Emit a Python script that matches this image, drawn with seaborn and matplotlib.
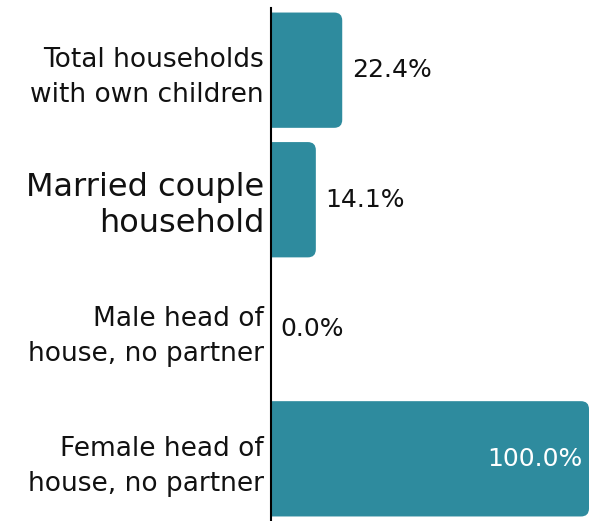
import matplotlib
matplotlib.use("Agg")
import matplotlib.pyplot as plt
import seaborn as sns
import pandas as pd
from matplotlib.patches import FancyBboxPatch

categories = ["Total households\nwith own children",
              "Married couple\nhousehold",
              "Male head of\nhouse, no partner",
              "Female head of\nhouse, no partner"]
values = [22.4, 14.1, 0.0, 100.0]
label_sizes = [19, 23, 19, 19]

BAR_COLOR = "#2E8B9E"

sns.set_theme(style="white")
plt.rcParams["font.family"] = ["DejaVu Sans"]

data = pd.DataFrame({"category": categories, "value": values})

fig = plt.figure(figsize=(5.9, 5.21), dpi=100)
ax = fig.add_axes([271 / 590, 0.0, 319 / 590, 513 / 521])

sns.barplot(data=data, x="value", y="category", color=BAR_COLOR,
            saturation=1, width=0.89, ax=ax)

ax.set_xlim(0, 100 * 319 / 318)
ax.set_ylim(3.48, -0.48)

# swap the plain bars for ones with rounded corners
px_x = 318 / 100
px_y = 129.5
for p in list(ax.patches):
    x0, y0 = p.get_x(), p.get_y()
    w, h = p.get_width(), p.get_height()
    p.remove()
    if w <= 0:
        continue
    r = 8 / px_x
    box = FancyBboxPatch((x0 - r, y0), w + r, h,
                         boxstyle=f"round,pad=0,rounding_size={r}",
                         mutation_aspect=px_x / px_y,
                         facecolor=BAR_COLOR, edgecolor="none")
    ax.add_patch(box)

for i, v in enumerate(values):
    if v >= 90:
        ax.text(v - 2, i, f"{v:.1f}%", ha="right", va="center",
                color="white", fontsize=18)
    else:
        ax.text(v + 3, i, f"{v:.1f}%", ha="left", va="center",
                color="#111111", fontsize=18)

ax.set_xlabel("")
ax.set_ylabel("")
ax.set_xticks([])
ax.tick_params(axis="y", length=0, pad=5)
for lab, fs in zip(ax.get_yticklabels(), label_sizes):
    lab.set_fontsize(fs)
    lab.set_color("#111111")
    lab.set_linespacing(1.45 * 19 / fs)
    lab.set_ha("right")

for side in ["top", "right", "bottom"]:
    ax.spines[side].set_visible(False)
ax.spines["left"].set_color("black")
ax.spines["left"].set_linewidth(1.5)

fig.savefig("out.png", dpi=100)
